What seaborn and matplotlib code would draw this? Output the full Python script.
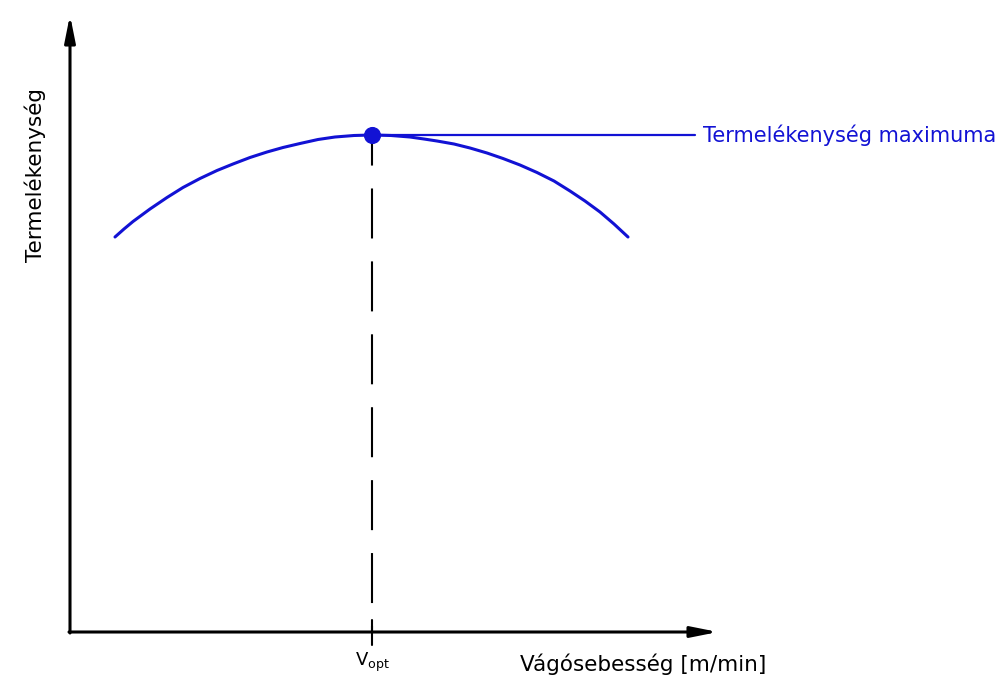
# Termelékenység - vágósebesség diagram

import matplotlib
matplotlib.use('Agg')
import matplotlib.pyplot as plt
import seaborn as sns
import pandas as pd

# adatok (az origótól mért egységekben)
speed = [45, 54, 63, 80, 97, 113, 130, 147, 163, 180, 197, 213, 230, 248, 265, 284, 302,
         321, 340, 354, 367, 384, 400, 417, 433, 450, 467, 484, 500, 515, 530, 544, 558]
productivity = [395, 403, 410.5, 423, 434.5, 444.5, 453.5, 461.5, 468, 474.5, 480, 484.5, 488.5, 492.5, 495, 496.5, 497,
                496.5, 495, 493, 491, 488, 484, 479, 473.5, 467, 459.5, 451, 441, 431, 420, 408, 395]
v_opt = 302
p_max = 497
x_label = 'Vágósebesség [m/min]'
y_label = 'Termelékenység'
max_label = 'Termelékenység maximuma'

df = pd.DataFrame({'speed': speed, 'productivity': productivity})

sns.set_style('white')
plt.rcParams['font.family'] = ['DejaVu Sans']
plt.rcParams['lines.scale_dashes'] = False

blue = '#1212d4'

fig = plt.figure(figsize=(10, 6.87), dpi=100)
ax = fig.add_axes([0, 0, 1, 1])
ax.set_xlim(-70, 930)
ax.set_ylim(-55, 632)
ax.set_axis_off()

# tengelyek nyíllal
arrow = dict(arrowstyle='-|>,head_length=0.8,head_width=0.16', color='black',
             lw=2.2, shrinkA=0, shrinkB=0, mutation_scale=20)
ax.annotate('', xy=(0, 617), xytext=(0, -1), arrowprops=arrow)
ax.annotate('', xy=(648, 0), xytext=(-1, 0), arrowprops=arrow)

# görbe
sns.lineplot(data=df, x='speed', y='productivity', color=blue, lw=2.2, ax=ax, sort=False)

# szaggatott vonal a maximumtól
ax.plot([v_opt, v_opt], [p_max, 0], color='black', lw=1.5,
        linestyle=(14, (36, 16.5)))
ax.plot([v_opt, v_opt], [12, -13], color='black', lw=1.5)

# vízszintes vonal a felirathoz
ax.plot([v_opt, 625], [p_max, p_max], color=blue, lw=1.6)
sns.scatterplot(x=[v_opt], y=[p_max], color=blue, s=130, ax=ax, zorder=5, edgecolor=blue)

# feliratok
ax.text(633, p_max, max_label, color=blue, fontsize=15, ha='left', va='center')
ax.text(450, -32, x_label, color='black', fontsize=15.5, ha='left', va='center')
ax.text(-35, 457, y_label, color='black', fontsize=15.5, rotation=90, ha='center', va='center')
ax.text(v_opt, -30, r'V$_{\rm opt}$', color='black', fontsize=13, ha='center', va='center')

fig.savefig('out.png', dpi=100)
